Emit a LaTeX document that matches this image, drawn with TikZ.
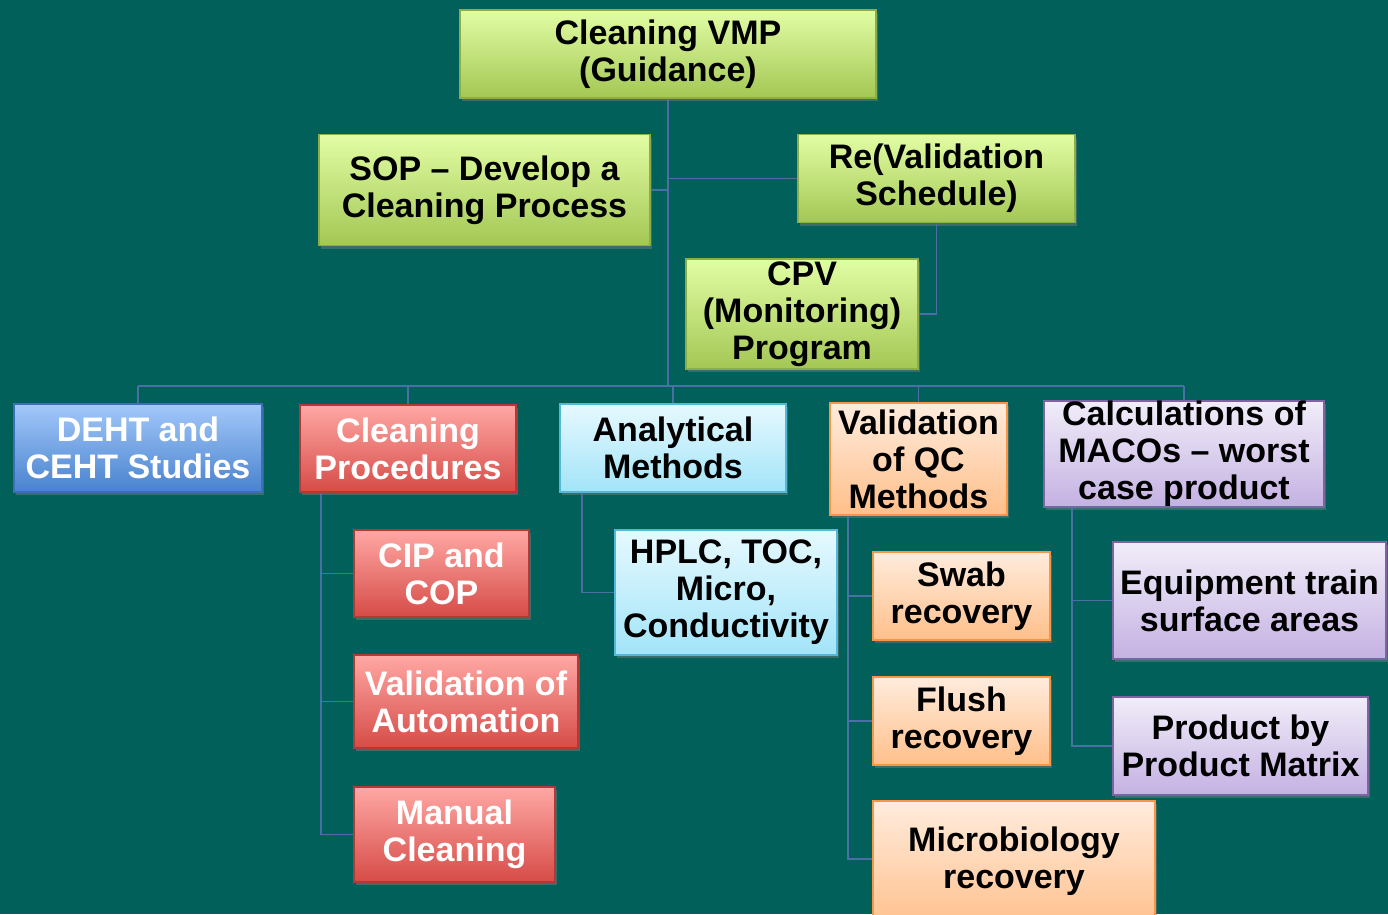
\documentclass[tikz,border=0pt]{standalone}
\usepackage{fontspec}
\setmainfont{Liberation Sans}
\usetikzlibrary{shadows}
\definecolor{bg}{HTML}{02605A}
\definecolor{conn}{HTML}{4A6FA5}
\definecolor{gtop}{HTML}{E2FDA4}
\definecolor{gbot}{HTML}{A3C754}
\definecolor{gbrd}{HTML}{8CAE48}
\definecolor{btop}{HTML}{A3C8FA}
\definecolor{bbot}{HTML}{4882CE}
\definecolor{bbrd}{HTML}{3D6FB4}
\definecolor{rtop}{HTML}{FFA8A4}
\definecolor{rbot}{HTML}{D64B47}
\definecolor{rbrd}{HTML}{B23A36}
\definecolor{ctop}{HTML}{E6F9FF}
\definecolor{cbot}{HTML}{A2E4F8}
\definecolor{cbrd}{HTML}{56B8D8}
\definecolor{otop}{HTML}{FFECDD}
\definecolor{obot}{HTML}{FFBF8A}
\definecolor{obrd}{HTML}{F79646}
\definecolor{ptop}{HTML}{F1EDF9}
\definecolor{pbot}{HTML}{C4B1E2}
\definecolor{pbrd}{HTML}{8064A2}
\tikzset{
  boxfont/.style={font=\fontsize{34}{37}\selectfont\bfseries},
  box/.style={rectangle, inner sep=0pt, align=center, line width=1.5pt, boxfont,
    drop shadow={opacity=0.45, shadow xshift=2pt, shadow yshift=-3pt}},
  gbox/.style={box, draw=gbrd, top color=gtop, bottom color=gbot, text=black},
  bbox/.style={box, draw=bbrd, top color=btop, bottom color=bbot, text=white},
  rbox/.style={box, draw=rbrd, top color=rtop, bottom color=rbot, text=white},
  cbox/.style={box, draw=cbrd, top color=ctop, bottom color=cbot, text=black},
  obox/.style={box, draw=obrd, top color=otop, bottom color=obot, text=black},
  pbox/.style={box, draw=pbrd, top color=ptop, bottom color=pbot, text=black},
  link/.style={draw=conn, line width=1.6pt}
}
\begin{document}
\begin{tikzpicture}[x=1pt,y=-1pt]
\fill[bg] (0,0) rectangle (1388,914);
\useasboundingbox (0,0) rectangle (1388,914);

\node[gbox, minimum width=416pt, minimum height=88pt] (vmp) at (668,54) {Cleaning VMP\\(Guidance)};
\node[gbox, minimum width=331pt, minimum height=111pt] (sop) at (484.5,190) {SOP -- Develop a\\Cleaning Process};
\node[gbox, minimum width=277pt, minimum height=88pt] (reval) at (936.5,178.5) {Re(Validation\\Schedule)};
\node[gbox, minimum width=232pt, minimum height=110pt] (cpv) at (802,314) {CPV\\(Monitoring)\\Program};

\node[bbox, minimum width=248pt, minimum height=88pt] (deht) at (138,448) {DEHT and\\CEHT Studies};
\node[rbox, minimum width=216pt, minimum height=87pt] (cproc) at (408,448.5) {Cleaning\\Procedures};
\node[cbox, minimum width=226pt, minimum height=88pt] (anal) at (673,448) {Analytical\\Methods};
\node[obox, minimum width=177pt, minimum height=112pt] (vqc) at (918.5,459) {Validation\\of QC\\Methods};
\node[pbox, minimum width=280pt, minimum height=102pt] (maco) at (1184,454) {Calculations of\\MACOs -- worst\\case product};

\node[rbox, minimum width=175pt, minimum height=87pt] (cip) at (441.5,573.5) {CIP and\\COP};
\node[rbox, minimum width=224pt, minimum height=93pt] (auto) at (466,701.5) {Validation of\\Automation};
\node[rbox, minimum width=201pt, minimum height=95pt] (manual) at (454.5,834.5) {Manual\\Cleaning};

\node[cbox, minimum width=222pt, minimum height=125pt] (hplc) at (726,592.5) {HPLC, TOC,\\Micro,\\Conductivity};

\node[obox, minimum width=177pt, minimum height=88pt] (swab) at (961.5,596) {Swab\\recovery};
\node[obox, minimum width=177pt, minimum height=88pt] (flush) at (961.5,721) {Flush\\recovery};
\node[obox, minimum width=282pt, minimum height=130pt,
  label={[align=center, boxfont, text=black, yshift=5pt]center:Microbiology\\recovery}] (micro) at (1014,866) {};

\node[pbox, minimum width=273pt, minimum height=117pt] (equip) at (1249.5,600.5) {Equipment train\\surface areas};
\node[pbox, minimum width=255pt, minimum height=98pt] (prod) at (1240.5,746) {Product by\\Product Matrix};

% coordinates for bus and spines
\coordinate (bus) at (668,386);
\coordinate (cpx) at (321,0);
\coordinate (ax) at (582,0);
\coordinate (qx) at (848,0);
\coordinate (mx) at (1072,0);

% upper tree
\draw[link] (vmp.south) -- (vmp.south |- bus);
\draw[link] (sop.east) -- (sop.east -| vmp.south);
\draw[link] (reval.west) -- (reval.west -| vmp.south);
\draw[link] (reval.south) |- (cpv.east);

% bus
\draw[link] (deht.north |- bus) -- (maco.north |- bus);
\draw[link] (deht.north |- bus) -- (deht.north);
\draw[link] (cproc.north |- bus) -- (cproc.north);
\draw[link] (anal.north |- bus) -- (anal.north);
\draw[link] (vqc.north |- bus) -- (vqc.north);
\draw[link] (maco.north |- bus) -- (maco.north);

% Cleaning procedures children
\draw[link] (cproc.south -| cpx) |- (manual.west);
\draw[link] (cpx |- cip.west) -- (cip.west);
\draw[link] (cpx |- auto.west) -- (auto.west);

% Analytical child
\draw[link] (anal.south -| ax) |- (hplc.west);

% QC children
\draw[link] (vqc.south -| qx) |- ([yshift=7pt]micro.west);
\draw[link] (qx |- swab.west) -- (swab.west);
\draw[link] (qx |- flush.west) -- (flush.west);

% MACO children
\draw[link] (maco.south -| mx) |- (prod.west);
\draw[link] (mx |- equip.west) -- (equip.west);
\end{tikzpicture}
\end{document}
